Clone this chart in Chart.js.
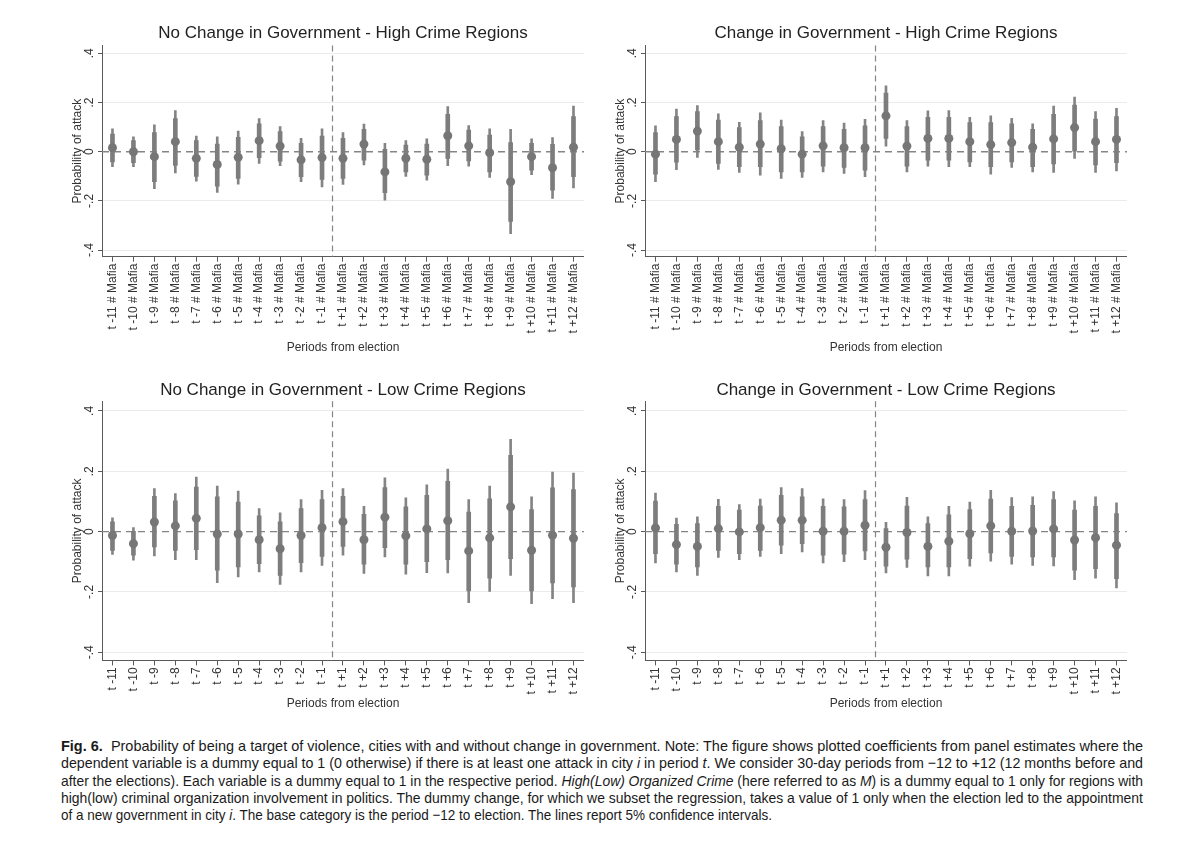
<!DOCTYPE html>
<html><head><meta charset="utf-8">
<script src="https://cdn.jsdelivr.net/npm/chart.js@4.4.1/dist/chart.umd.min.js"></script>
<style>
html,body{margin:0;padding:0;background:#fff;}
body{width:1200px;height:845px;position:relative;overflow:hidden;font-family:"Liberation Sans",Arial,sans-serif;}
canvas.p{position:absolute;}
#caption{position:absolute;left:61px;top:737px;font-family:"Liberation Sans Narrow","Liberation Sans",Arial,sans-serif;font-size:15px;line-height:17.3px;color:#1a1a1a;}
#caption .ln{white-space:nowrap;height:17.3px;}
#caption .ln span{display:inline-block;transform-origin:0 50%;}
</style></head><body>
<canvas class="p" id="c1" width="550" height="365" style="left:40px;top:0px"></canvas>
<canvas class="p" id="c2" width="550" height="365" style="left:583px;top:0px"></canvas>
<canvas class="p" id="c3" width="550" height="355" style="left:40px;top:365px"></canvas>
<canvas class="p" id="c4" width="550" height="355" style="left:583px;top:365px"></canvas>
<div id="caption">
<div class="ln"><span><b>Fig. 6.</b>&nbsp; Probability of being a target of violence, cities with and without change in government. Note: The figure shows plotted coefficients from panel estimates where the</span></div>
<div class="ln"><span>dependent variable is a dummy equal to 1 (0 otherwise) if there is at least one attack in city <i>i</i> in period <i>t</i>. We consider 30-day periods from −12 to +12 (12 months before and</span></div>
<div class="ln"><span>after the elections). Each variable is a dummy equal to 1 in the respective period. <i>High(Low) Organized Crime</i> (here referred to as <i>M</i>) is a dummy equal to 1 only for regions with</span></div>
<div class="ln"><span>high(low) criminal organization involvement in politics. The dummy change, for which we subset the regression, takes a value of 1 only when the election led to the appointment</span></div>
<div class="ln"><span>of a new government in city <i>i</i>. The base category is the period −12 to election. The lines report 5% confidence intervals.</span></div>
</div>
<script>
// ---- tick labels ----
const periodsMafia = ['t -11 # Mafia','t -10 # Mafia','t -9 # Mafia','t -8 # Mafia','t -7 # Mafia','t -6 # Mafia','t -5 # Mafia','t -4 # Mafia','t -3 # Mafia','t -2 # Mafia','t -1 # Mafia','t +1 # Mafia','t +2 # Mafia','t +3 # Mafia','t +4 # Mafia','t +5 # Mafia','t +6 # Mafia','t +7 # Mafia','t +8 # Mafia','t +9 # Mafia','t +10 # Mafia','t +11 # Mafia','t +12 # Mafia'];
const periodsPlain = ['t -11','t -10','t -9','t -8','t -7','t -6','t -5','t -4','t -3','t -2','t -1','t +1','t +2','t +3','t +4','t +5','t +6','t +7','t +8','t +9','t +10','t +11','t +12'];
const yTickValues = [-0.4, -0.2, 0, 0.2, 0.4];
const yTickLabels = ['-.4', '-.2', '0', '.2', '.4'];

// ---- No Change in Government - High Crime ----
const ncHighEst     = [0.016, 0.0, -0.02, 0.041, -0.027, -0.052, -0.023, 0.045, 0.023, -0.033, -0.024, -0.027, 0.031, -0.082, -0.027, -0.031, 0.065, 0.024, -0.004, -0.122, -0.02, -0.065, 0.018];
const ncHighOuterHi = [0.093, 0.061, 0.109, 0.167, 0.064, 0.061, 0.084, 0.135, 0.102, 0.054, 0.093, 0.078, 0.112, 0.034, 0.045, 0.052, 0.184, 0.106, 0.093, 0.091, 0.052, 0.057, 0.186];
const ncHighOuterLo = [-0.061, -0.061, -0.15, -0.086, -0.12, -0.166, -0.132, -0.048, -0.057, -0.122, -0.143, -0.133, -0.054, -0.197, -0.1, -0.116, -0.057, -0.059, -0.105, -0.333, -0.093, -0.19, -0.147];
const ncHighInnerHi = [0.072, 0.045, 0.078, 0.135, 0.045, 0.031, 0.059, 0.113, 0.082, 0.034, 0.064, 0.054, 0.091, 0.01, 0.027, 0.031, 0.152, 0.088, 0.068, 0.037, 0.034, 0.03, 0.143];
const ncHighInnerLo = [-0.041, -0.045, -0.122, -0.056, -0.1, -0.14, -0.109, -0.024, -0.038, -0.102, -0.113, -0.109, -0.034, -0.167, -0.082, -0.095, -0.027, -0.037, -0.082, -0.283, -0.075, -0.156, -0.102];

// ---- Change in Government - High Crime ----
const chHighEst     = [-0.01, 0.05, 0.084, 0.041, 0.018, 0.031, 0.012, -0.01, 0.024, 0.016, 0.016, 0.146, 0.023, 0.054, 0.054, 0.041, 0.029, 0.037, 0.018, 0.052, 0.098, 0.041, 0.05];
const chHighOuterHi = [0.105, 0.173, 0.188, 0.154, 0.12, 0.158, 0.129, 0.082, 0.127, 0.116, 0.132, 0.268, 0.127, 0.166, 0.167, 0.14, 0.146, 0.136, 0.113, 0.186, 0.222, 0.163, 0.176];
const chHighOuterLo = [-0.122, -0.073, -0.023, -0.072, -0.084, -0.095, -0.109, -0.105, -0.082, -0.088, -0.102, 0.023, -0.082, -0.059, -0.061, -0.061, -0.091, -0.064, -0.082, -0.084, -0.027, -0.084, -0.078];
const chHighInnerHi = [0.078, 0.143, 0.163, 0.129, 0.098, 0.127, 0.102, 0.061, 0.102, 0.091, 0.105, 0.238, 0.102, 0.14, 0.14, 0.118, 0.118, 0.113, 0.091, 0.152, 0.19, 0.133, 0.143];
const chHighInnerLo = [-0.091, -0.043, 0.007, -0.048, -0.061, -0.061, -0.082, -0.082, -0.059, -0.064, -0.075, 0.054, -0.059, -0.034, -0.034, -0.041, -0.061, -0.041, -0.061, -0.05, 0.0, -0.054, -0.045];

// ---- No Change in Government - Low Crime ----
const ncLowEst     = [-0.013, -0.04, 0.032, 0.019, 0.044, -0.008, -0.008, -0.027, -0.057, -0.013, 0.013, 0.033, -0.027, 0.048, -0.014, 0.009, 0.036, -0.064, -0.021, 0.082, -0.062, -0.012, -0.022];
const ncLowOuterHi = [0.046, 0.013, 0.143, 0.126, 0.181, 0.151, 0.134, 0.076, 0.062, 0.106, 0.137, 0.143, 0.084, 0.178, 0.112, 0.155, 0.207, 0.106, 0.151, 0.306, 0.115, 0.197, 0.194];
const ncLowOuterLo = [-0.076, -0.095, -0.081, -0.093, -0.093, -0.169, -0.15, -0.134, -0.175, -0.134, -0.112, -0.078, -0.139, -0.084, -0.141, -0.136, -0.137, -0.236, -0.198, -0.145, -0.239, -0.222, -0.236];
const ncLowInnerHi = [0.032, 0.001, 0.117, 0.102, 0.148, 0.115, 0.098, 0.052, 0.032, 0.076, 0.106, 0.117, 0.057, 0.146, 0.082, 0.12, 0.167, 0.065, 0.109, 0.253, 0.073, 0.145, 0.139];
const ncLowInnerLo = [-0.062, -0.078, -0.051, -0.062, -0.06, -0.128, -0.117, -0.106, -0.145, -0.103, -0.082, -0.049, -0.108, -0.053, -0.108, -0.1, -0.093, -0.197, -0.154, -0.09, -0.197, -0.17, -0.183];

// ---- Change in Government - Low Crime ----
const chLowEst     = [0.012, -0.043, -0.049, 0.01, -0.001, 0.013, 0.038, 0.038, 0.001, 0.001, 0.021, -0.052, -0.003, -0.049, -0.032, -0.007, 0.019, 0.001, 0.002, 0.009, -0.028, -0.02, -0.045];
const chLowOuterHi = [0.128, 0.045, 0.049, 0.107, 0.09, 0.108, 0.146, 0.143, 0.109, 0.106, 0.136, 0.031, 0.114, 0.049, 0.084, 0.098, 0.137, 0.113, 0.115, 0.133, 0.102, 0.115, 0.095];
const chLowOuterLo = [-0.104, -0.134, -0.145, -0.086, -0.093, -0.082, -0.073, -0.067, -0.104, -0.1, -0.093, -0.137, -0.119, -0.147, -0.147, -0.115, -0.098, -0.108, -0.112, -0.114, -0.159, -0.154, -0.187];
const chLowInnerHi = [0.101, 0.024, 0.027, 0.084, 0.071, 0.085, 0.12, 0.115, 0.084, 0.082, 0.106, 0.01, 0.085, 0.027, 0.056, 0.073, 0.108, 0.084, 0.087, 0.106, 0.071, 0.084, 0.06];
const chLowInnerLo = [-0.073, -0.108, -0.117, -0.062, -0.073, -0.062, -0.045, -0.04, -0.078, -0.075, -0.064, -0.115, -0.091, -0.117, -0.117, -0.09, -0.071, -0.082, -0.084, -0.084, -0.128, -0.123, -0.156];

const FONT = '"Liberation Sans", Arial, sans-serif';
const GRAY = '#7d7d7d';
const AXIS = '#5a5a5a';
Chart.defaults.font.family = FONT;

const decor = {
  id: 'decor',
  beforeDatasetsDraw(chart) {
    const {ctx, chartArea: a, scales: {x, y}} = chart;
    ctx.save();
    ctx.strokeStyle = '#858585';
    ctx.lineWidth = 1.4;
    ctx.setLineDash([7, 5]);
    const y0 = y.getPixelForValue(0);
    ctx.beginPath(); ctx.moveTo(a.left, y0); ctx.lineTo(a.right, y0); ctx.stroke();
    const xv = (x.getPixelForValue(10) + x.getPixelForValue(11)) / 2;
    ctx.lineWidth = 1.2;
    ctx.setLineDash([6, 4]);
    ctx.beginPath(); ctx.moveTo(xv, a.top); ctx.lineTo(xv, a.bottom); ctx.stroke();
    ctx.restore();
  },
  afterDraw(chart, args, o) {
    const {ctx, chartArea: a, scales: {y}} = chart;
    const cx = (a.left + a.right) / 2;
    ctx.save();
    ctx.textAlign = 'center';
    ctx.textBaseline = 'middle';
    ctx.fillStyle = '#222';
    ctx.font = '17px ' + FONT;
    ctx.fillText(o.title, cx, a.top - o.titleGap);
    ctx.fillStyle = '#333';
    ctx.font = '12px ' + FONT;
    ctx.fillText('Periods from election', cx, a.bottom + o.xTitleGap);
    // y title
    ctx.save();
    ctx.translate(a.left - 24, (a.top + a.bottom) / 2);
    ctx.rotate(-Math.PI / 2);
    ctx.fillText('Probability of attack', 0, 0);
    ctx.restore();
    // y tick labels
    yTickValues.forEach((v, i) => {
      ctx.save();
      ctx.translate(a.left - 12.5, y.getPixelForValue(v));
      ctx.rotate(-Math.PI / 2);
      ctx.fillText(yTickLabels[i], 0, 0);
      ctx.restore();
    });
    ctx.restore();
  }
};

function makeChart(id, labels, est, oLo, oHi, iLo, iHi, cfg) {
  const outer = oLo.map((v, i) => [v, oHi[i]]);
  const inner = iLo.map((v, i) => [v, iHi[i]]);
  return new Chart(document.getElementById(id), {
    type: 'bar',
    data: {
      labels: labels,
      datasets: [
        {type: 'bar', data: outer, backgroundColor: '#848484', barThickness: 2, grouped: false, borderWidth: 0, order: 3},
        {type: 'bar', data: inner, backgroundColor: GRAY, barThickness: 4, grouped: false, borderWidth: 0, order: 2},
        {type: 'line', data: est, showLine: false, pointRadius: 4.5, pointBackgroundColor: '#767676', pointBorderWidth: 0, order: 1}
      ]
    },
    options: {
      responsive: false,
      animation: false,
      layout: {padding: {left: 0, top: cfg.padTop, right: 5, bottom: 0}},
      plugins: {
        legend: {display: false},
        tooltip: {enabled: false},
        decor: {title: cfg.title, titleGap: cfg.titleGap, xTitleGap: cfg.xTitleGap}
      },
      scales: {
        x: {
          type: 'category',
          offset: true,
          grid: {display: true, offset: false, drawOnChartArea: false, drawTicks: true, tickLength: 5, tickColor: AXIS},
          border: {display: true, color: AXIS, width: 1},
          ticks: {autoSkip: false, minRotation: 90, maxRotation: 90, padding: 2, color: '#333', font: {family: FONT, size: 12}},
          afterFit: s => { s.height = cfg.xH; }
        },
        y: {
          min: -0.427, max: 0.432,
          afterBuildTicks: s => { s.ticks = yTickValues.map(v => ({value: v})); },
          ticks: {display: false},
          grid: {
            color: c => (c.tick && Math.abs(c.tick.value) < 1e-9) ? 'rgba(0,0,0,0)' : '#ebebeb',
            lineWidth: 1, drawTicks: true, tickLength: 4, tickColor: AXIS
          },
          border: {display: true, color: AXIS, width: 1},
          afterFit: s => { s.width = 62; }
        }
      }
    },
    plugins: [decor]
  });
}

makeChart('c1', periodsMafia, ncHighEst, ncHighOuterLo, ncHighOuterHi, ncHighInnerLo, ncHighInnerHi,
  {title: 'No Change in Government - High Crime Regions', padTop: 45.5, xH: 108.3, titleGap: 12.5, xTitleGap: 90.5});
makeChart('c2', periodsMafia, chHighEst, chHighOuterLo, chHighOuterHi, chHighInnerLo, chHighInnerHi,
  {title: 'Change in Government - High Crime Regions', padTop: 45.5, xH: 108.3, titleGap: 12.5, xTitleGap: 90.5});
makeChart('c3', periodsPlain, ncLowEst, ncLowOuterLo, ncLowOuterHi, ncLowInnerLo, ncLowInnerHi,
  {title: 'No Change in Government - Low Crime Regions', padTop: 36.3, xH: 59.6, titleGap: 11, xTitleGap: 43});
makeChart('c4', periodsPlain, chLowEst, chLowOuterLo, chLowOuterHi, chLowInnerLo, chLowInnerHi,
  {title: 'Change in Government - Low Crime Regions', padTop: 36.3, xH: 59.6, titleGap: 11, xTitleGap: 43});

// fit caption lines to the reference line widths
(function () {
  const lines = Array.from(document.querySelectorAll('#caption .ln span'));
  const targets = [1082, 1082, 1082, 1082, 711];
  lines.forEach((s, i) => {
    const w = s.getBoundingClientRect().width;
    s.style.transform = 'scaleX(' + (targets[i] / w) + ')';
  });
})();
</script>
</body></html>
